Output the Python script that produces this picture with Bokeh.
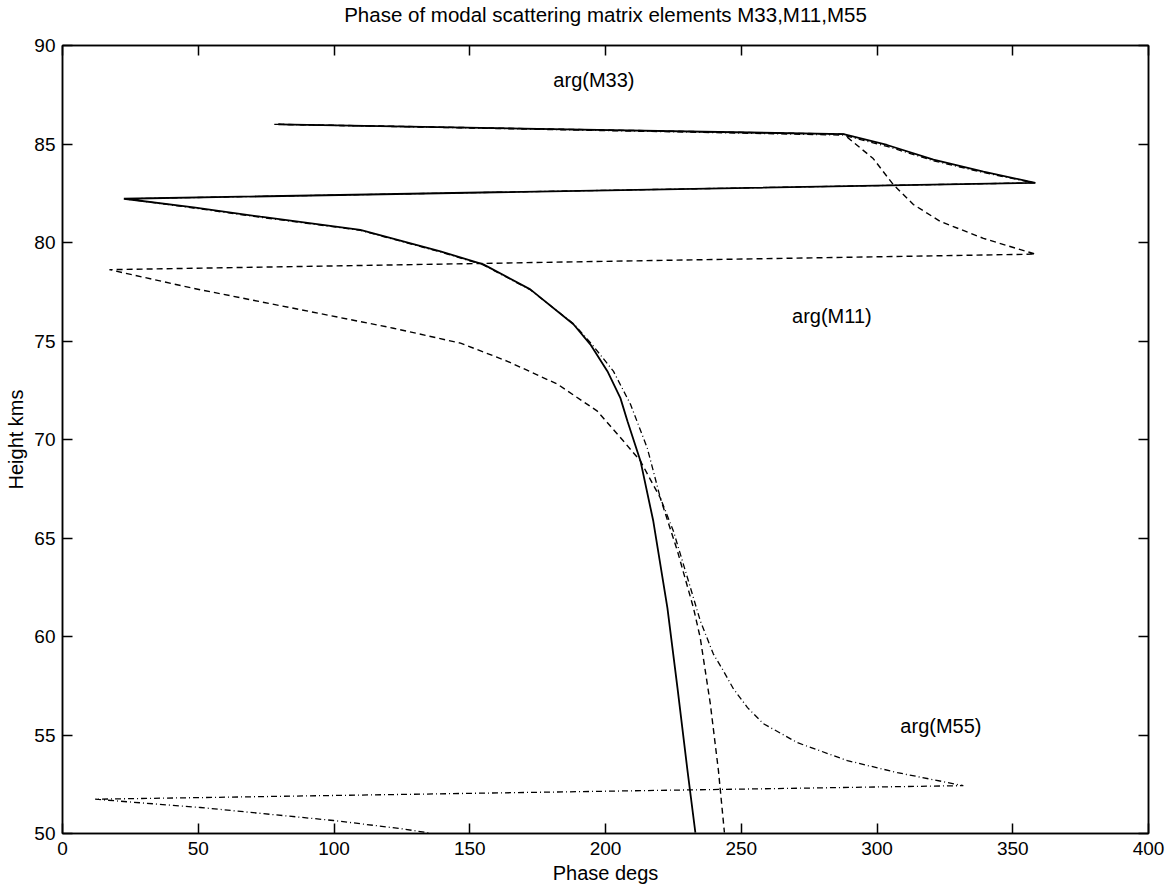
from bokeh.plotting import figure
from bokeh.models import Range1d, FixedTicker, LinearAxis, Label
from bokeh.embed import file_html
from bokeh.resources import INLINE

# arg(M33) - solid
m33_phase = [79.5, 287.7, 303.7, 320.8, 339.2, 355.8, 358.3, 22.6, 48.3, 72.9, 109.7,
             139.2, 155.0, 172.3, 188.2, 194.4, 200.7, 205.5, 208.1, 212.9, 217.6,
             222.8, 226.5, 230.2, 233.1]
m33_height = [86.0, 85.5, 84.95, 84.21, 83.6, 83.1, 83.03, 82.22, 81.78, 81.31, 80.64,
              79.55, 78.89, 77.62, 75.85, 74.83, 73.47, 72.10, 70.93, 68.9, 65.86,
              61.45, 57.4, 53.19, 50.05]

# arg(M11) - dashed
m11_phase = [79.5, 287.7, 298.6, 306.0, 313.4, 323.3, 339.2, 358.3, 17.3, 48.3, 85.1,
             121.9, 146.6, 163.9, 182.3, 197.0, 206.6, 212.9, 220.2, 226.5, 232.4,
             234.9, 238.6, 241.6, 243.8]
m11_height = [86.0, 85.5, 84.26, 82.94, 81.93, 81.07, 80.21, 79.41, 78.62, 77.67, 76.66,
              75.65, 74.89, 73.97, 72.81, 71.44, 69.92, 68.9, 67.03, 64.34, 61.45,
              59.93, 56.59, 53.19, 50.05]

# arg(M55) - dash-dot
m55_phase = [78.0, 287.7, 303.7, 320.8, 339.2, 355.8, 358.3, 23.0, 48.3, 72.9, 109.7,
             139.2, 155.0, 172.3, 188.4, 195.0, 202.9, 209.2, 215.4, 220.2, 225.0,
             231.3, 234.9, 239.7, 243.4, 247.1, 252.3, 258.1, 270.7, 289.1, 307.5, 331.8,
             12.0, 50.8, 99.8, 124.5, 135.5]
m55_height = [86.0, 85.45, 84.88, 84.15, 83.55, 83.08, 83.03, 82.22, 81.75, 81.28, 80.62,
              79.52, 78.86, 77.6, 75.85, 74.83, 73.47, 71.79, 69.56, 67.03, 65.36,
              62.47, 60.8, 59.12, 58.26, 57.35, 56.39, 55.58, 54.61, 53.7, 53.09, 52.43,
              51.74, 51.32, 50.66, 50.25, 50.02]

x_ticks = [0, 50, 100, 150, 200, 250, 300, 350, 400]
y_ticks = [50, 55, 60, 65, 70, 75, 80, 85, 90]

labels = ["arg(M33)", "arg(M11)", "arg(M55)"]
label_x = [180.8, 268.7, 308.6]
label_y = [88.27, 76.25, 55.47]

title_text = "Phase of modal scattering matrix elements M33,M11,M55"
xlabel_text = "Phase degs"
ylabel_text = "Height kms"

FONT = "Liberation Sans"

p = figure(width=1169, height=886, x_range=Range1d(0, 400), y_range=Range1d(50, 90),
           output_backend="svg", toolbar_location=None, title=title_text,
           min_border_left=62, min_border_right=21, min_border_top=44, min_border_bottom=53)
p.background_fill_color = "white"
p.border_fill_color = "white"
p.grid.visible = False
p.outline_line_color = "black"
p.outline_line_width = 1.5

p.title.text_font = FONT
p.title.text_font_size = "20.5px"
p.title.text_font_style = "normal"
p.title.text_color = "black"
p.title.align = "center"
p.title.standoff = 0

p.xaxis.ticker = FixedTicker(ticks=x_ticks)
p.yaxis.ticker = FixedTicker(ticks=y_ticks)
for ax in [p.xaxis[0], p.yaxis[0]]:
    ax.major_tick_in = 10
    ax.major_tick_out = 0
    ax.minor_tick_line_color = None
    ax.axis_line_width = 1.5
    ax.axis_line_color = "black"
    ax.major_tick_line_width = 1.5
    ax.major_tick_line_color = "black"
    ax.major_label_text_font = FONT
    ax.major_label_text_font_size = "19px"
    ax.major_label_text_color = "black"
    ax.axis_label_text_font = FONT
    ax.axis_label_text_font_size = "20px"
    ax.axis_label_text_font_style = "normal"
    ax.axis_label_text_color = "black"
p.xaxis.major_label_standoff = 8
p.xaxis.axis_label_standoff = 4
p.yaxis.major_label_standoff = 7
p.yaxis.axis_label_standoff = 4
p.xaxis.axis_label = xlabel_text
p.yaxis.axis_label = ylabel_text

top = LinearAxis(ticker=FixedTicker(ticks=x_ticks))
right = LinearAxis(ticker=FixedTicker(ticks=y_ticks))
for ax in [top, right]:
    ax.major_tick_in = 10
    ax.major_tick_out = 0
    ax.minor_tick_line_color = None
    ax.axis_line_width = 1.5
    ax.axis_line_color = "black"
    ax.major_tick_line_width = 1.5
    ax.major_label_text_font_size = "0px"
    ax.major_label_text_color = None
    ax.major_label_standoff = 0
# blank spacer label on the top axis keeps the title clear of the frame
top.axis_label = " "
top.axis_label_text_font = FONT
top.axis_label_text_font_size = "15px"
top.axis_label_standoff = 0
p.add_layout(top, "above")
p.add_layout(right, "right")

p.line(m33_phase, m33_height, line_color="black", line_width=1.8)
p.line(m11_phase, m11_height, line_color="black", line_width=1.4, line_dash="6 4")
p.line(m55_phase, m55_height, line_color="black", line_width=1.3, line_dash="6 3 1 3")

for t, lx, ly in zip(labels, label_x, label_y):
    p.add_layout(Label(x=lx, y=ly, text=t, text_font=FONT, text_font_size="20px",
                       text_color="black", text_baseline="middle", text_align="left"))

open("out.html", "w").write(file_html(p, INLINE))
